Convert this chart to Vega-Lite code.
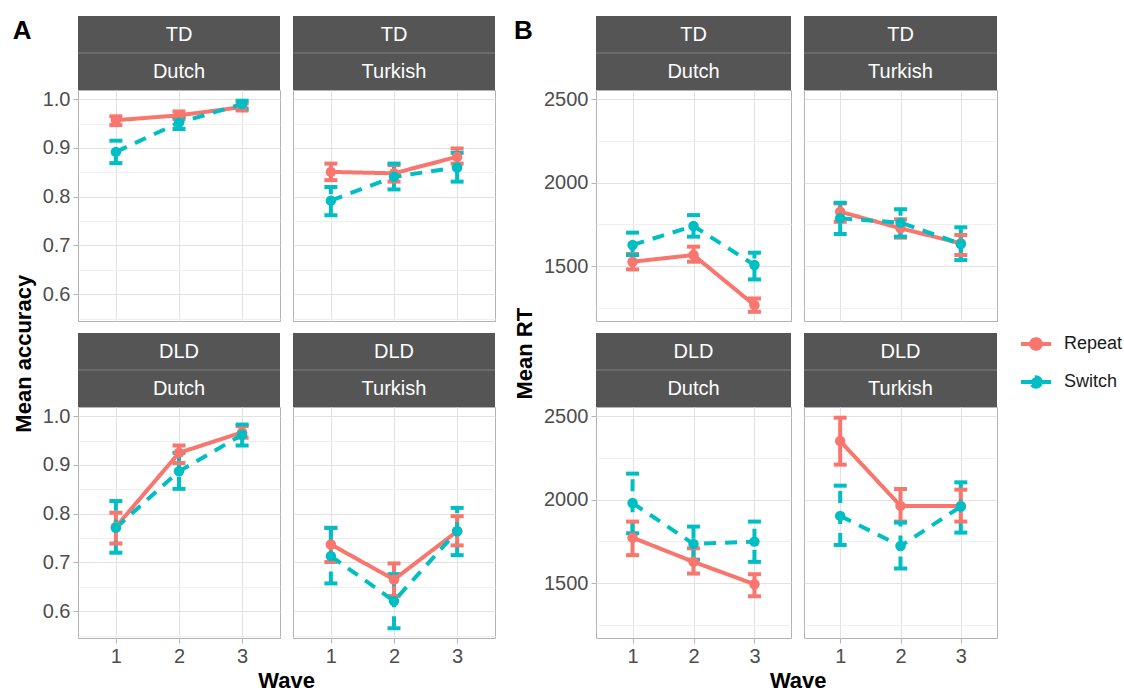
{
"$schema":"https://vega.github.io/schema/vega-lite/v6.json",
"padding":{"left":12,"top":16,"right":0,"bottom":0},
"datasets":{
"acc":[
{"group":"TD","lang":"Dutch","cond":"Repeat","wave":1,"m":0.957,"lo":0.947,"hi":0.965},
{"group":"TD","lang":"Dutch","cond":"Repeat","wave":2,"m":0.967,"lo":0.959,"hi":0.975},
{"group":"TD","lang":"Dutch","cond":"Repeat","wave":3,"m":0.984,"lo":0.977,"hi":0.992},
{"group":"TD","lang":"Dutch","cond":"Switch","wave":1,"m":0.892,"lo":0.869,"hi":0.915},
{"group":"TD","lang":"Dutch","cond":"Switch","wave":2,"m":0.952,"lo":0.939,"hi":0.963},
{"group":"TD","lang":"Dutch","cond":"Switch","wave":3,"m":0.990,"lo":0.981,"hi":0.997},
{"group":"TD","lang":"Turkish","cond":"Repeat","wave":1,"m":0.851,"lo":0.834,"hi":0.868},
{"group":"TD","lang":"Turkish","cond":"Repeat","wave":2,"m":0.848,"lo":0.831,"hi":0.865},
{"group":"TD","lang":"Turkish","cond":"Repeat","wave":3,"m":0.882,"lo":0.868,"hi":0.899},
{"group":"TD","lang":"Turkish","cond":"Switch","wave":1,"m":0.792,"lo":0.762,"hi":0.820},
{"group":"TD","lang":"Turkish","cond":"Switch","wave":2,"m":0.841,"lo":0.815,"hi":0.868},
{"group":"TD","lang":"Turkish","cond":"Switch","wave":3,"m":0.860,"lo":0.831,"hi":0.890},
{"group":"DLD","lang":"Dutch","cond":"Repeat","wave":1,"m":0.773,"lo":0.739,"hi":0.802},
{"group":"DLD","lang":"Dutch","cond":"Repeat","wave":2,"m":0.925,"lo":0.904,"hi":0.940},
{"group":"DLD","lang":"Dutch","cond":"Repeat","wave":3,"m":0.967,"lo":0.956,"hi":0.980},
{"group":"DLD","lang":"Dutch","cond":"Switch","wave":1,"m":0.771,"lo":0.720,"hi":0.826},
{"group":"DLD","lang":"Dutch","cond":"Switch","wave":2,"m":0.887,"lo":0.851,"hi":0.925},
{"group":"DLD","lang":"Dutch","cond":"Switch","wave":3,"m":0.962,"lo":0.940,"hi":0.983},
{"group":"DLD","lang":"Turkish","cond":"Repeat","wave":1,"m":0.737,"lo":0.701,"hi":0.771},
{"group":"DLD","lang":"Turkish","cond":"Repeat","wave":2,"m":0.665,"lo":0.631,"hi":0.698},
{"group":"DLD","lang":"Turkish","cond":"Repeat","wave":3,"m":0.764,"lo":0.735,"hi":0.795},
{"group":"DLD","lang":"Turkish","cond":"Switch","wave":1,"m":0.713,"lo":0.657,"hi":0.771},
{"group":"DLD","lang":"Turkish","cond":"Switch","wave":2,"m":0.621,"lo":0.565,"hi":0.676},
{"group":"DLD","lang":"Turkish","cond":"Switch","wave":3,"m":0.764,"lo":0.715,"hi":0.812}
],
"rt":[
{"group":"TD","lang":"Dutch","cond":"Repeat","wave":1,"m":1526,"lo":1480,"hi":1572},
{"group":"TD","lang":"Dutch","cond":"Repeat","wave":2,"m":1566,"lo":1526,"hi":1616},
{"group":"TD","lang":"Dutch","cond":"Repeat","wave":3,"m":1266,"lo":1226,"hi":1306},
{"group":"TD","lang":"Dutch","cond":"Switch","wave":1,"m":1626,"lo":1566,"hi":1700},
{"group":"TD","lang":"Dutch","cond":"Switch","wave":2,"m":1740,"lo":1676,"hi":1805},
{"group":"TD","lang":"Dutch","cond":"Switch","wave":3,"m":1506,"lo":1420,"hi":1580},
{"group":"TD","lang":"Turkish","cond":"Repeat","wave":1,"m":1825,"lo":1765,"hi":1875},
{"group":"TD","lang":"Turkish","cond":"Repeat","wave":2,"m":1726,"lo":1670,"hi":1780},
{"group":"TD","lang":"Turkish","cond":"Repeat","wave":3,"m":1636,"lo":1566,"hi":1686},
{"group":"TD","lang":"Turkish","cond":"Switch","wave":1,"m":1786,"lo":1692,"hi":1879},
{"group":"TD","lang":"Turkish","cond":"Switch","wave":2,"m":1760,"lo":1676,"hi":1840},
{"group":"TD","lang":"Turkish","cond":"Switch","wave":3,"m":1632,"lo":1536,"hi":1732},
{"group":"DLD","lang":"Dutch","cond":"Repeat","wave":1,"m":1772,"lo":1667,"hi":1868},
{"group":"DLD","lang":"Dutch","cond":"Repeat","wave":2,"m":1627,"lo":1557,"hi":1708},
{"group":"DLD","lang":"Dutch","cond":"Repeat","wave":3,"m":1493,"lo":1421,"hi":1553},
{"group":"DLD","lang":"Dutch","cond":"Switch","wave":1,"m":1979,"lo":1798,"hi":2155},
{"group":"DLD","lang":"Dutch","cond":"Switch","wave":2,"m":1734,"lo":1640,"hi":1838},
{"group":"DLD","lang":"Dutch","cond":"Switch","wave":3,"m":1748,"lo":1627,"hi":1868},
{"group":"DLD","lang":"Turkish","cond":"Repeat","wave":1,"m":2350,"lo":2209,"hi":2490},
{"group":"DLD","lang":"Turkish","cond":"Repeat","wave":2,"m":1962,"lo":1868,"hi":2063},
{"group":"DLD","lang":"Turkish","cond":"Repeat","wave":3,"m":1962,"lo":1868,"hi":2059},
{"group":"DLD","lang":"Turkish","cond":"Switch","wave":1,"m":1902,"lo":1728,"hi":2083},
{"group":"DLD","lang":"Turkish","cond":"Switch","wave":2,"m":1722,"lo":1587,"hi":1862},
{"group":"DLD","lang":"Turkish","cond":"Switch","wave":3,"m":1958,"lo":1802,"hi":2103}
]
},
"spacing":18,
"hconcat":[
{"title":{"text":"A","orient":"top","anchor":"start","fontSize":26,"fontWeight":"bold","color":"#000000","offset":-28},
 "vconcat":[
 {"title":{"text":"Mean accuracy","orient":"left","anchor":"middle","fontSize":22,"fontWeight":"bold","color":"#000000","offset":6},
  "spacing":11,
  "vconcat":[
  {"spacing":11,"hconcat":[
   {"spacing":0,"bounds":"flush","vconcat":[
    {"width":202,"height":74,"view":{"stroke":null},"data":{"values":[{"lab":"TD"},{"lab":"Dutch"}]},"layer":[
     {"mark":{"type":"rect","color":"#555555"},"encoding":{"y":{"field":"lab","type":"nominal","axis":null,"scale":{"domain":["TD","Dutch"],"paddingInner":0,"paddingOuter":0}}}},
     {"transform":[{"filter":{"field":"lab","equal":"Dutch"}}],"mark":{"type":"rule","color":"#808080","strokeWidth":1},"encoding":{"y":{"field":"lab","type":"nominal","bandPosition":0,"axis":null}}},
     {"mark":{"type":"text","color":"#ffffff","fontSize":20},"encoding":{"y":{"field":"lab","type":"nominal","axis":null},"text":{"field":"lab"}}}
    ]},
    {"width":202,"height":231,"data":{"name":"acc"},"transform":[{"filter":"datum.group==='TD' && datum.lang==='Dutch'"}],"resolve":{"axis":{"y":"independent"}},"layer":[
     {"mark":{"type":"rule","strokeWidth":4},"encoding":{
      "x":{"field":"wave","type":"quantitative","scale":{"domain":[0.4,3.6],"nice":false,"zero":false},"axis":{"values":[1,2,3],"format":"d","title":null,"labels":false,"ticks":false,"domain":false,"grid":true}},
      "y":{"field":"lo","type":"quantitative","scale":{"domain":[0.545,1.019],"nice":false,"zero":false},"axis":{"values":[0.6,0.7,0.8,0.9,1.0],"format":".1f","title":null,"labels":true,"ticks":true,"domain":false,"grid":true,"orient":"left"}},
      "y2":{"field":"hi"},
      "color":{"field":"cond","type":"nominal","title":null,"legend":{"orient":"none","legendX":941,"legendY":311,"symbolType":"M-1,0L1,0M0.32,0A0.32,0.32,0,1,1,-0.32,0A0.32,0.32,0,1,1,0.32,0Z","symbolSize":900,"symbolStrokeWidth":4,"symbolOpacity":1,"labelFontSize":18,"labelFont":"Liberation Sans","labelColor":"#1a1a1a","labelOffset":11,"rowPadding":8,"padding":0,"encode":{"symbols":{"update":{"fill":{"scale":"color","field":"value"},"stroke":{"scale":"color","field":"value"},"strokeDash":{"scale":"strokeDash","field":"value"}}}}}},
      "strokeDash":{"field":"cond","type":"nominal","title":null,"legend":null,"scale":{"range":[[1,0],[12,9]]}}}},
     {"transform":[{"fold":["lo","hi"],"as":["end","yv"]}],"mark":{"type":"tick","orient":"horizontal","size":13,"thickness":4,"opacity":1},"encoding":{
      "x":{"field":"wave","type":"quantitative"},
      "y":{"field":"yv","type":"quantitative","axis":{"values":[0.55,0.65,0.75,0.85,0.95],"title":null,"labels":false,"ticks":false,"domain":false,"grid":true,"gridColor":"#efefef","orient":"right"}},
      "color":{"field":"cond","type":"nominal","title":null}}},
     {"mark":{"type":"line","strokeWidth":4},"encoding":{
      "x":{"field":"wave","type":"quantitative"},
      "y":{"field":"m","type":"quantitative","axis":null},
      "color":{"field":"cond","type":"nominal","title":null},
      "strokeDash":{"field":"cond","type":"nominal","title":null,"legend":null,"scale":{"range":[[1,0],[12,9]]}}}},
     {"mark":{"type":"point","filled":true,"size":110,"opacity":1},"encoding":{
      "x":{"field":"wave","type":"quantitative"},
      "y":{"field":"m","type":"quantitative","axis":null},
      "color":{"field":"cond","type":"nominal","title":null}}}
    ]}
   ]},
   {"spacing":0,"bounds":"flush","vconcat":[
    {"width":202,"height":74,"view":{"stroke":null},"data":{"values":[{"lab":"TD"},{"lab":"Turkish"}]},"layer":[
     {"mark":{"type":"rect","color":"#555555"},"encoding":{"y":{"field":"lab","type":"nominal","axis":null,"scale":{"domain":["TD","Turkish"],"paddingInner":0,"paddingOuter":0}}}},
     {"transform":[{"filter":{"field":"lab","equal":"Turkish"}}],"mark":{"type":"rule","color":"#808080","strokeWidth":1},"encoding":{"y":{"field":"lab","type":"nominal","bandPosition":0,"axis":null}}},
     {"mark":{"type":"text","color":"#ffffff","fontSize":20},"encoding":{"y":{"field":"lab","type":"nominal","axis":null},"text":{"field":"lab"}}}
    ]},
    {"width":202,"height":231,"data":{"name":"acc"},"transform":[{"filter":"datum.group==='TD' && datum.lang==='Turkish'"}],"resolve":{"axis":{"y":"independent"}},"layer":[
     {"mark":{"type":"rule","strokeWidth":4},"encoding":{
      "x":{"field":"wave","type":"quantitative","scale":{"domain":[0.4,3.6],"nice":false,"zero":false},"axis":{"values":[1,2,3],"format":"d","title":null,"labels":false,"ticks":false,"domain":false,"grid":true}},
      "y":{"field":"lo","type":"quantitative","scale":{"domain":[0.545,1.019],"nice":false,"zero":false},"axis":{"values":[0.6,0.7,0.8,0.9,1.0],"format":".1f","title":null,"labels":false,"ticks":false,"domain":false,"grid":true,"orient":"left"}},
      "y2":{"field":"hi"},
      "color":{"field":"cond","type":"nominal","title":null},
      "strokeDash":{"field":"cond","type":"nominal","title":null,"legend":null,"scale":{"range":[[1,0],[12,9]]}}}},
     {"transform":[{"fold":["lo","hi"],"as":["end","yv"]}],"mark":{"type":"tick","orient":"horizontal","size":13,"thickness":4,"opacity":1},"encoding":{
      "x":{"field":"wave","type":"quantitative"},
      "y":{"field":"yv","type":"quantitative","axis":{"values":[0.55,0.65,0.75,0.85,0.95],"title":null,"labels":false,"ticks":false,"domain":false,"grid":true,"gridColor":"#efefef","orient":"right"}},
      "color":{"field":"cond","type":"nominal","title":null}}},
     {"mark":{"type":"line","strokeWidth":4},"encoding":{
      "x":{"field":"wave","type":"quantitative"},
      "y":{"field":"m","type":"quantitative","axis":null},
      "color":{"field":"cond","type":"nominal","title":null},
      "strokeDash":{"field":"cond","type":"nominal","title":null,"legend":null,"scale":{"range":[[1,0],[12,9]]}}}},
     {"mark":{"type":"point","filled":true,"size":110,"opacity":1},"encoding":{
      "x":{"field":"wave","type":"quantitative"},
      "y":{"field":"m","type":"quantitative","axis":null},
      "color":{"field":"cond","type":"nominal","title":null}}}
    ]}
   ]}
  ]},
  {"title":{"text":"Wave","orient":"bottom","anchor":"middle","fontSize":22,"fontWeight":"bold","color":"#000000","offset":4,"dx":18},"spacing":11,"hconcat":[
   {"spacing":0,"bounds":"flush","vconcat":[
    {"width":202,"height":74,"view":{"stroke":null},"data":{"values":[{"lab":"DLD"},{"lab":"Dutch"}]},"layer":[
     {"mark":{"type":"rect","color":"#555555"},"encoding":{"y":{"field":"lab","type":"nominal","axis":null,"scale":{"domain":["DLD","Dutch"],"paddingInner":0,"paddingOuter":0}}}},
     {"transform":[{"filter":{"field":"lab","equal":"Dutch"}}],"mark":{"type":"rule","color":"#808080","strokeWidth":1},"encoding":{"y":{"field":"lab","type":"nominal","bandPosition":0,"axis":null}}},
     {"mark":{"type":"text","color":"#ffffff","fontSize":20},"encoding":{"y":{"field":"lab","type":"nominal","axis":null},"text":{"field":"lab"}}}
    ]},
    {"width":202,"height":231,"data":{"name":"acc"},"transform":[{"filter":"datum.group==='DLD' && datum.lang==='Dutch'"}],"resolve":{"axis":{"y":"independent"}},"layer":[
     {"mark":{"type":"rule","strokeWidth":4},"encoding":{
      "x":{"field":"wave","type":"quantitative","scale":{"domain":[0.4,3.6],"nice":false,"zero":false},"axis":{"values":[1,2,3],"format":"d","title":null,"labels":true,"ticks":true,"domain":false,"grid":true}},
      "y":{"field":"lo","type":"quantitative","scale":{"domain":[0.545,1.019],"nice":false,"zero":false},"axis":{"values":[0.6,0.7,0.8,0.9,1.0],"format":".1f","title":null,"labels":true,"ticks":true,"domain":false,"grid":true,"orient":"left"}},
      "y2":{"field":"hi"},
      "color":{"field":"cond","type":"nominal","title":null},
      "strokeDash":{"field":"cond","type":"nominal","title":null,"legend":null,"scale":{"range":[[1,0],[12,9]]}}}},
     {"transform":[{"fold":["lo","hi"],"as":["end","yv"]}],"mark":{"type":"tick","orient":"horizontal","size":13,"thickness":4,"opacity":1},"encoding":{
      "x":{"field":"wave","type":"quantitative"},
      "y":{"field":"yv","type":"quantitative","axis":{"values":[0.55,0.65,0.75,0.85,0.95],"title":null,"labels":false,"ticks":false,"domain":false,"grid":true,"gridColor":"#efefef","orient":"right"}},
      "color":{"field":"cond","type":"nominal","title":null}}},
     {"mark":{"type":"line","strokeWidth":4},"encoding":{
      "x":{"field":"wave","type":"quantitative"},
      "y":{"field":"m","type":"quantitative","axis":null},
      "color":{"field":"cond","type":"nominal","title":null},
      "strokeDash":{"field":"cond","type":"nominal","title":null,"legend":null,"scale":{"range":[[1,0],[12,9]]}}}},
     {"mark":{"type":"point","filled":true,"size":110,"opacity":1},"encoding":{
      "x":{"field":"wave","type":"quantitative"},
      "y":{"field":"m","type":"quantitative","axis":null},
      "color":{"field":"cond","type":"nominal","title":null}}}
    ]}
   ]},
   {"spacing":0,"bounds":"flush","vconcat":[
    {"width":202,"height":74,"view":{"stroke":null},"data":{"values":[{"lab":"DLD"},{"lab":"Turkish"}]},"layer":[
     {"mark":{"type":"rect","color":"#555555"},"encoding":{"y":{"field":"lab","type":"nominal","axis":null,"scale":{"domain":["DLD","Turkish"],"paddingInner":0,"paddingOuter":0}}}},
     {"transform":[{"filter":{"field":"lab","equal":"Turkish"}}],"mark":{"type":"rule","color":"#808080","strokeWidth":1},"encoding":{"y":{"field":"lab","type":"nominal","bandPosition":0,"axis":null}}},
     {"mark":{"type":"text","color":"#ffffff","fontSize":20},"encoding":{"y":{"field":"lab","type":"nominal","axis":null},"text":{"field":"lab"}}}
    ]},
    {"width":202,"height":231,"data":{"name":"acc"},"transform":[{"filter":"datum.group==='DLD' && datum.lang==='Turkish'"}],"resolve":{"axis":{"y":"independent"}},"layer":[
     {"mark":{"type":"rule","strokeWidth":4},"encoding":{
      "x":{"field":"wave","type":"quantitative","scale":{"domain":[0.4,3.6],"nice":false,"zero":false},"axis":{"values":[1,2,3],"format":"d","title":null,"labels":true,"ticks":true,"domain":false,"grid":true}},
      "y":{"field":"lo","type":"quantitative","scale":{"domain":[0.545,1.019],"nice":false,"zero":false},"axis":{"values":[0.6,0.7,0.8,0.9,1.0],"format":".1f","title":null,"labels":false,"ticks":false,"domain":false,"grid":true,"orient":"left"}},
      "y2":{"field":"hi"},
      "color":{"field":"cond","type":"nominal","title":null},
      "strokeDash":{"field":"cond","type":"nominal","title":null,"legend":null,"scale":{"range":[[1,0],[12,9]]}}}},
     {"transform":[{"fold":["lo","hi"],"as":["end","yv"]}],"mark":{"type":"tick","orient":"horizontal","size":13,"thickness":4,"opacity":1},"encoding":{
      "x":{"field":"wave","type":"quantitative"},
      "y":{"field":"yv","type":"quantitative","axis":{"values":[0.55,0.65,0.75,0.85,0.95],"title":null,"labels":false,"ticks":false,"domain":false,"grid":true,"gridColor":"#efefef","orient":"right"}},
      "color":{"field":"cond","type":"nominal","title":null}}},
     {"mark":{"type":"line","strokeWidth":4},"encoding":{
      "x":{"field":"wave","type":"quantitative"},
      "y":{"field":"m","type":"quantitative","axis":null},
      "color":{"field":"cond","type":"nominal","title":null},
      "strokeDash":{"field":"cond","type":"nominal","title":null,"legend":null,"scale":{"range":[[1,0],[12,9]]}}}},
     {"mark":{"type":"point","filled":true,"size":110,"opacity":1},"encoding":{
      "x":{"field":"wave","type":"quantitative"},
      "y":{"field":"m","type":"quantitative","axis":null},
      "color":{"field":"cond","type":"nominal","title":null}}}
    ]}
   ]}
  ]}
 ]}
]},
{"title":{"text":"B","orient":"top","anchor":"start","fontSize":26,"fontWeight":"bold","color":"#000000","offset":-28},
 "vconcat":[
 {"title":{"text":"Mean RT","orient":"left","anchor":"middle","fontSize":22,"fontWeight":"bold","color":"#000000","offset":6},
  "spacing":11,
  "vconcat":[
  {"spacing":11,"hconcat":[
   {"spacing":0,"bounds":"flush","vconcat":[
    {"width":195,"height":74,"view":{"stroke":null},"data":{"values":[{"lab":"TD"},{"lab":"Dutch"}]},"layer":[
     {"mark":{"type":"rect","color":"#555555"},"encoding":{"y":{"field":"lab","type":"nominal","axis":null,"scale":{"domain":["TD","Dutch"],"paddingInner":0,"paddingOuter":0}}}},
     {"transform":[{"filter":{"field":"lab","equal":"Dutch"}}],"mark":{"type":"rule","color":"#808080","strokeWidth":1},"encoding":{"y":{"field":"lab","type":"nominal","bandPosition":0,"axis":null}}},
     {"mark":{"type":"text","color":"#ffffff","fontSize":20},"encoding":{"y":{"field":"lab","type":"nominal","axis":null},"text":{"field":"lab"}}}
    ]},
    {"width":195,"height":231,"data":{"name":"rt"},"transform":[{"filter":"datum.group==='TD' && datum.lang==='Dutch'"}],"resolve":{"axis":{"y":"independent"}},"layer":[
     {"mark":{"type":"rule","strokeWidth":4},"encoding":{
      "x":{"field":"wave","type":"quantitative","scale":{"domain":[0.4,3.6],"nice":false,"zero":false},"axis":{"values":[1,2,3],"format":"d","title":null,"labels":false,"ticks":false,"domain":false,"grid":true}},
      "y":{"field":"lo","type":"quantitative","scale":{"domain":[1171,2554],"nice":false,"zero":false},"axis":{"values":[1500,2000,2500],"format":"d","title":null,"labels":true,"ticks":true,"domain":false,"grid":true,"orient":"left"}},
      "y2":{"field":"hi"},
      "color":{"field":"cond","type":"nominal","title":null},
      "strokeDash":{"field":"cond","type":"nominal","title":null,"legend":null,"scale":{"range":[[1,0],[12,9]]}}}},
     {"transform":[{"fold":["lo","hi"],"as":["end","yv"]}],"mark":{"type":"tick","orient":"horizontal","size":13,"thickness":4,"opacity":1},"encoding":{
      "x":{"field":"wave","type":"quantitative"},
      "y":{"field":"yv","type":"quantitative","axis":{"values":[1250,1750,2250],"title":null,"labels":false,"ticks":false,"domain":false,"grid":true,"gridColor":"#efefef","orient":"right"}},
      "color":{"field":"cond","type":"nominal","title":null}}},
     {"mark":{"type":"line","strokeWidth":4},"encoding":{
      "x":{"field":"wave","type":"quantitative"},
      "y":{"field":"m","type":"quantitative","axis":null},
      "color":{"field":"cond","type":"nominal","title":null},
      "strokeDash":{"field":"cond","type":"nominal","title":null,"legend":null,"scale":{"range":[[1,0],[12,9]]}}}},
     {"mark":{"type":"point","filled":true,"size":110,"opacity":1},"encoding":{
      "x":{"field":"wave","type":"quantitative"},
      "y":{"field":"m","type":"quantitative","axis":null},
      "color":{"field":"cond","type":"nominal","title":null}}}
    ]}
   ]},
   {"spacing":0,"bounds":"flush","vconcat":[
    {"width":193,"height":74,"view":{"stroke":null},"data":{"values":[{"lab":"TD"},{"lab":"Turkish"}]},"layer":[
     {"mark":{"type":"rect","color":"#555555"},"encoding":{"y":{"field":"lab","type":"nominal","axis":null,"scale":{"domain":["TD","Turkish"],"paddingInner":0,"paddingOuter":0}}}},
     {"transform":[{"filter":{"field":"lab","equal":"Turkish"}}],"mark":{"type":"rule","color":"#808080","strokeWidth":1},"encoding":{"y":{"field":"lab","type":"nominal","bandPosition":0,"axis":null}}},
     {"mark":{"type":"text","color":"#ffffff","fontSize":20},"encoding":{"y":{"field":"lab","type":"nominal","axis":null},"text":{"field":"lab"}}}
    ]},
    {"width":193,"height":231,"data":{"name":"rt"},"transform":[{"filter":"datum.group==='TD' && datum.lang==='Turkish'"}],"resolve":{"axis":{"y":"independent"}},"layer":[
     {"mark":{"type":"rule","strokeWidth":4},"encoding":{
      "x":{"field":"wave","type":"quantitative","scale":{"domain":[0.4,3.6],"nice":false,"zero":false},"axis":{"values":[1,2,3],"format":"d","title":null,"labels":false,"ticks":false,"domain":false,"grid":true}},
      "y":{"field":"lo","type":"quantitative","scale":{"domain":[1171,2554],"nice":false,"zero":false},"axis":{"values":[1500,2000,2500],"format":"d","title":null,"labels":false,"ticks":false,"domain":false,"grid":true,"orient":"left"}},
      "y2":{"field":"hi"},
      "color":{"field":"cond","type":"nominal","title":null},
      "strokeDash":{"field":"cond","type":"nominal","title":null,"legend":null,"scale":{"range":[[1,0],[12,9]]}}}},
     {"transform":[{"fold":["lo","hi"],"as":["end","yv"]}],"mark":{"type":"tick","orient":"horizontal","size":13,"thickness":4,"opacity":1},"encoding":{
      "x":{"field":"wave","type":"quantitative"},
      "y":{"field":"yv","type":"quantitative","axis":{"values":[1250,1750,2250],"title":null,"labels":false,"ticks":false,"domain":false,"grid":true,"gridColor":"#efefef","orient":"right"}},
      "color":{"field":"cond","type":"nominal","title":null}}},
     {"mark":{"type":"line","strokeWidth":4},"encoding":{
      "x":{"field":"wave","type":"quantitative"},
      "y":{"field":"m","type":"quantitative","axis":null},
      "color":{"field":"cond","type":"nominal","title":null},
      "strokeDash":{"field":"cond","type":"nominal","title":null,"legend":null,"scale":{"range":[[1,0],[12,9]]}}}},
     {"mark":{"type":"point","filled":true,"size":110,"opacity":1},"encoding":{
      "x":{"field":"wave","type":"quantitative"},
      "y":{"field":"m","type":"quantitative","axis":null},
      "color":{"field":"cond","type":"nominal","title":null}}}
    ]}
   ]}
  ]},
  {"title":{"text":"Wave","orient":"bottom","anchor":"middle","fontSize":22,"fontWeight":"bold","color":"#000000","offset":4,"dx":28},"spacing":11,"hconcat":[
   {"spacing":0,"bounds":"flush","vconcat":[
    {"width":195,"height":74,"view":{"stroke":null},"data":{"values":[{"lab":"DLD"},{"lab":"Dutch"}]},"layer":[
     {"mark":{"type":"rect","color":"#555555"},"encoding":{"y":{"field":"lab","type":"nominal","axis":null,"scale":{"domain":["DLD","Dutch"],"paddingInner":0,"paddingOuter":0}}}},
     {"transform":[{"filter":{"field":"lab","equal":"Dutch"}}],"mark":{"type":"rule","color":"#808080","strokeWidth":1},"encoding":{"y":{"field":"lab","type":"nominal","bandPosition":0,"axis":null}}},
     {"mark":{"type":"text","color":"#ffffff","fontSize":20},"encoding":{"y":{"field":"lab","type":"nominal","axis":null},"text":{"field":"lab"}}}
    ]},
    {"width":195,"height":231,"data":{"name":"rt"},"transform":[{"filter":"datum.group==='DLD' && datum.lang==='Dutch'"}],"resolve":{"axis":{"y":"independent"}},"layer":[
     {"mark":{"type":"rule","strokeWidth":4},"encoding":{
      "x":{"field":"wave","type":"quantitative","scale":{"domain":[0.4,3.6],"nice":false,"zero":false},"axis":{"values":[1,2,3],"format":"d","title":null,"labels":true,"ticks":true,"domain":false,"grid":true}},
      "y":{"field":"lo","type":"quantitative","scale":{"domain":[1171,2554],"nice":false,"zero":false},"axis":{"values":[1500,2000,2500],"format":"d","title":null,"labels":true,"ticks":true,"domain":false,"grid":true,"orient":"left"}},
      "y2":{"field":"hi"},
      "color":{"field":"cond","type":"nominal","title":null},
      "strokeDash":{"field":"cond","type":"nominal","title":null,"legend":null,"scale":{"range":[[1,0],[12,9]]}}}},
     {"transform":[{"fold":["lo","hi"],"as":["end","yv"]}],"mark":{"type":"tick","orient":"horizontal","size":13,"thickness":4,"opacity":1},"encoding":{
      "x":{"field":"wave","type":"quantitative"},
      "y":{"field":"yv","type":"quantitative","axis":{"values":[1250,1750,2250],"title":null,"labels":false,"ticks":false,"domain":false,"grid":true,"gridColor":"#efefef","orient":"right"}},
      "color":{"field":"cond","type":"nominal","title":null}}},
     {"mark":{"type":"line","strokeWidth":4},"encoding":{
      "x":{"field":"wave","type":"quantitative"},
      "y":{"field":"m","type":"quantitative","axis":null},
      "color":{"field":"cond","type":"nominal","title":null},
      "strokeDash":{"field":"cond","type":"nominal","title":null,"legend":null,"scale":{"range":[[1,0],[12,9]]}}}},
     {"mark":{"type":"point","filled":true,"size":110,"opacity":1},"encoding":{
      "x":{"field":"wave","type":"quantitative"},
      "y":{"field":"m","type":"quantitative","axis":null},
      "color":{"field":"cond","type":"nominal","title":null}}}
    ]}
   ]},
   {"spacing":0,"bounds":"flush","vconcat":[
    {"width":193,"height":74,"view":{"stroke":null},"data":{"values":[{"lab":"DLD"},{"lab":"Turkish"}]},"layer":[
     {"mark":{"type":"rect","color":"#555555"},"encoding":{"y":{"field":"lab","type":"nominal","axis":null,"scale":{"domain":["DLD","Turkish"],"paddingInner":0,"paddingOuter":0}}}},
     {"transform":[{"filter":{"field":"lab","equal":"Turkish"}}],"mark":{"type":"rule","color":"#808080","strokeWidth":1},"encoding":{"y":{"field":"lab","type":"nominal","bandPosition":0,"axis":null}}},
     {"mark":{"type":"text","color":"#ffffff","fontSize":20},"encoding":{"y":{"field":"lab","type":"nominal","axis":null},"text":{"field":"lab"}}}
    ]},
    {"width":193,"height":231,"data":{"name":"rt"},"transform":[{"filter":"datum.group==='DLD' && datum.lang==='Turkish'"}],"resolve":{"axis":{"y":"independent"}},"layer":[
     {"mark":{"type":"rule","strokeWidth":4},"encoding":{
      "x":{"field":"wave","type":"quantitative","scale":{"domain":[0.4,3.6],"nice":false,"zero":false},"axis":{"values":[1,2,3],"format":"d","title":null,"labels":true,"ticks":true,"domain":false,"grid":true}},
      "y":{"field":"lo","type":"quantitative","scale":{"domain":[1171,2554],"nice":false,"zero":false},"axis":{"values":[1500,2000,2500],"format":"d","title":null,"labels":false,"ticks":false,"domain":false,"grid":true,"orient":"left"}},
      "y2":{"field":"hi"},
      "color":{"field":"cond","type":"nominal","title":null},
      "strokeDash":{"field":"cond","type":"nominal","title":null,"legend":null,"scale":{"range":[[1,0],[12,9]]}}}},
     {"transform":[{"fold":["lo","hi"],"as":["end","yv"]}],"mark":{"type":"tick","orient":"horizontal","size":13,"thickness":4,"opacity":1},"encoding":{
      "x":{"field":"wave","type":"quantitative"},
      "y":{"field":"yv","type":"quantitative","axis":{"values":[1250,1750,2250],"title":null,"labels":false,"ticks":false,"domain":false,"grid":true,"gridColor":"#efefef","orient":"right"}},
      "color":{"field":"cond","type":"nominal","title":null}}},
     {"mark":{"type":"line","strokeWidth":4},"encoding":{
      "x":{"field":"wave","type":"quantitative"},
      "y":{"field":"m","type":"quantitative","axis":null},
      "color":{"field":"cond","type":"nominal","title":null},
      "strokeDash":{"field":"cond","type":"nominal","title":null,"legend":null,"scale":{"range":[[1,0],[12,9]]}}}},
     {"mark":{"type":"point","filled":true,"size":110,"opacity":1},"encoding":{
      "x":{"field":"wave","type":"quantitative"},
      "y":{"field":"m","type":"quantitative","axis":null},
      "color":{"field":"cond","type":"nominal","title":null}}}
    ]}
   ]}
  ]}
 ]}
]}
],
"config":{
 "font":"Liberation Sans",
 "view":{"stroke":"#b3b3b3","strokeWidth":1},
 "axis":{"gridColor":"#e2e2e2","gridWidth":1,"tickColor":"#b3b3b3","tickSize":5,"labelFontSize":20,"labelColor":"#4d4d4d","labelPadding":3,"labelFont":"Liberation Sans"},
 "range":{"category":["#F8766D","#00BFC4"]},
 "title":{"font":"Liberation Sans"}
}
}
